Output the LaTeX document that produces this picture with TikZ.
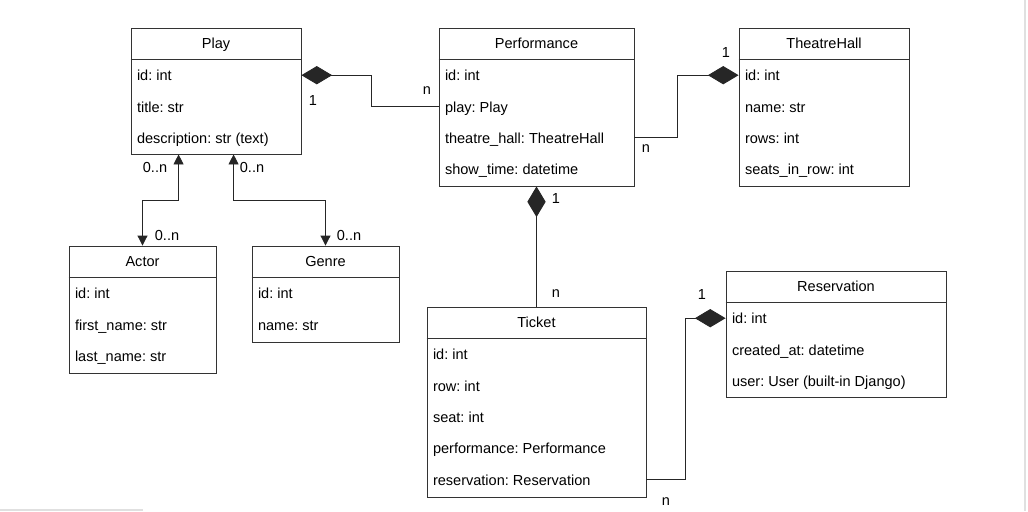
\documentclass[tikz,border=0pt]{standalone}
\usepackage{fontspec}
\setmainfont{Liberation Sans}
\usetikzlibrary{arrows.meta,calc,fit}
\frenchspacing

\begin{document}
\begin{tikzpicture}[
    x=0.75pt, y=-0.75pt,
    line width=0.65pt, draw=black!85,
    box/.style={draw=black!80, line width=0.65pt, inner sep=0pt},
    txt/.style={font=\fontsize{10.9}{13}\selectfont, inner sep=0pt},
    hdr/.style={txt, anchor=base},
    row/.style={txt, anchor=base west, text height=8.5pt, text depth=0pt},
    comp/.style={draw=black!85, {Diamond[length=23pt,width=13.7pt]}-},
    assoc/.style={draw=black!85, {Triangle[length=7.5pt,width=7.5pt]}-{Triangle[length=7.5pt,width=7.5pt]}}
]

\useasboundingbox (0,0) rectangle (1028,511);

% class boxes
\node[box, fit={(131,28) (301,154)}] (play) {};
\node[box, fit={(439,28) (634,186)}] (perf) {};
\node[box, fit={(739,28) (909,186)}] (hall) {};
\node[box, fit={(69,246) (216,373)}] (actor) {};
\node[box, fit={(252,246) (399,342)}] (genre) {};
\node[box, fit={(427,307) (646,497)}] (ticket) {};
\node[box, fit={(726,271) (946,397)}] (res) {};

% header lines and class names
\foreach \c/\t in {play/Play, perf/Performance, hall/TheatreHall, actor/Actor, genre/Genre, ticket/Ticket, res/Reservation} {
    \draw[draw=black!80] ([yshift=-23.6pt]\c.north west) -- ([yshift=-23.6pt]\c.north east);
    \node[hdr] (\c-h) at ([yshift=-15.75pt]\c.north) {\t};
}

% fields
\foreach \t [count=\i] in {id: int, title: str, description: str (text)}
    \node[row] (play-\i) at ($(play.north west)+(6,22+31.3*\i)$) {\t};
\foreach \t [count=\i] in {id: int, play: Play, theatre\_hall: TheatreHall, show\_time: datetime}
    \node[row] (perf-\i) at ($(perf.north west)+(6,22+31.3*\i)$) {\t};
\foreach \t [count=\i] in {id: int, name: str, rows: int, seats\_in\_row: int}
    \node[row] (hall-\i) at ($(hall.north west)+(6,22+31.3*\i)$) {\t};
\foreach \t [count=\i] in {id: int, first\_name: str, last\_name: str}
    \node[row] (actor-\i) at ($(actor.north west)+(6,22+31.3*\i)$) {\t};
\foreach \t [count=\i] in {id: int, name: str}
    \node[row] (genre-\i) at ($(genre.north west)+(6,22+31.3*\i)$) {\t};
\foreach \t [count=\i] in {id: int, row: int, seat: int, performance: Performance, reservation: Reservation}
    \node[row] (ticket-\i) at ($(ticket.north west)+(6,22+31.3*\i)$) {\t};
\foreach \t [count=\i] in {id: int, created\_at: datetime, user: User (built-in Django)}
    \node[row] (res-\i) at ($(res.north west)+(6,22+31.3*\i)$) {\t};

% compositions
\draw[comp] (play.east |- play-1) -- ++(70,0) |- (perf.west |- perf-2);
\draw[comp] (hall.west |- hall-1) -- ++(-61,0) |- (perf.east |- perf-3);
\draw[comp] (perf.south) -- (ticket.north);
\draw[comp] (res.west |- res-1) -- ++(-40,0) |- (ticket.east |- ticket-5);

% many-to-many
\draw[assoc] ($(play.south west)+(48,0)$) -- ++(0,46) -| (actor.north);
\draw[assoc] ($(play.south west)+(103,0)$) -- ++(0,46) -| (genre.north);

% multiplicities
\node[txt] (m-pp1) at (313,100) {1};
\node[txt] (m-pp2) at (427,91) {n};
\node[txt] (m-ph1) at (646,149) {n};
\node[txt] (m-ph2) at (726,52) {1};
\node[txt] (m-pt1) at (556,198) {1};
\node[txt] (m-pt2) at (556,294) {n};
\node[txt] (m-tr1) at (666,502) {n};
\node[txt] (m-tr2) at (702,294) {1};
\node[txt] (m-pa1) at (155,167) {0..n};
\node[txt] (m-pa2) at (167,235) {0..n};
\node[txt] (m-pg1) at (252,167) {0..n};
\node[txt] (m-pg2) at (349,235) {0..n};

% screenshot edges
\draw[black!12, line width=1pt] (1025,0) -- (1025,511);
\draw[black!12, line width=1pt] (0,510) -- (143,510);

\end{tikzpicture}
\end{document}
